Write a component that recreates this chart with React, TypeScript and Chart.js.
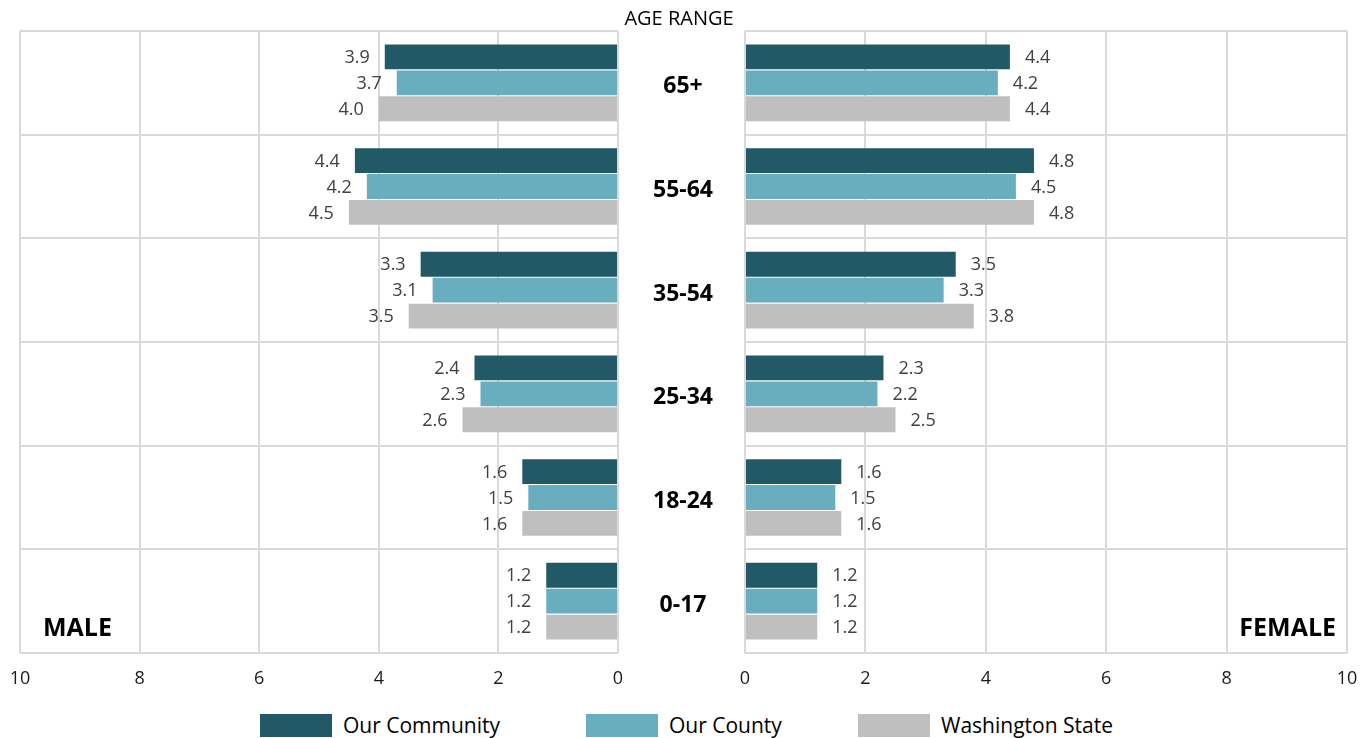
import React, { useEffect, useRef } from "react";
import { Chart, registerables } from "chart.js";

Chart.register(...registerables);

// ---- data ----
const ageRanges = ["65+", "55-64", "35-54", "25-34", "18-24", "0-17"];
const seriesNames = ["Our Community", "Our County", "Washington State"];
const seriesColors = ["#225967", "#68AEBF", "#BFBFBF"];
const maleCommunity = [3.9, 4.4, 3.3, 2.4, 1.6, 1.2];
const maleCounty = [3.7, 4.2, 3.1, 2.3, 1.5, 1.2];
const maleState = [4.0, 4.5, 3.5, 2.6, 1.6, 1.2];
const femaleCommunity = [4.4, 4.8, 3.5, 2.3, 1.6, 1.2];
const femaleCounty = [4.2, 4.5, 3.3, 2.2, 1.5, 1.2];
const femaleState = [4.4, 4.8, 3.8, 2.5, 1.6, 1.2];
const axisMin = 0;
const axisMax = 10;
const axisStep = 2;
const leftTitle = "MALE";
const rightTitle = "FEMALE";
const middleTitle = "AGE RANGE";

const GRID = "#D9D9D9";
const FONT = '"Open Sans", "DejaVu Sans", sans-serif';

function makeDatasets(values: number[][]) {
  return values.map((data, i) => ({
    label: seriesNames[i],
    data,
    backgroundColor: seriesColors[i],
    borderWidth: 0,
    categoryPercentage: 0.75,
    barPercentage: 0.96,
  }));
}

function valueLabelPlugin(side: "left" | "right") {
  return {
    id: "valueLabels" + side,
    afterDatasetsDraw(chart: any) {
      const ctx = chart.ctx;
      ctx.save();
      ctx.font = `18px ${FONT}`;
      ctx.fillStyle = "#404040";
      ctx.textBaseline = "middle";
      ctx.textAlign = side === "left" ? "right" : "left";
      chart.data.datasets.forEach((ds: any, i: number) => {
        const meta = chart.getDatasetMeta(i);
        meta.data.forEach((bar: any, j: number) => {
          const v = ds.data[j] as number;
          const x = side === "left" ? bar.x - 15 : bar.x + 15;
          ctx.fillText(v.toFixed(1), x, bar.y + 1);
        });
      });
      ctx.restore();
    },
  };
}

function cornerTitlePlugin(side: "left" | "right", text: string) {
  return {
    id: "cornerTitle" + side,
    afterDraw(chart: any) {
      const { ctx, chartArea } = chart;
      ctx.save();
      ctx.font = `bold 25px ${FONT}`;
      ctx.fillStyle = "#000000";
      ctx.textBaseline = "middle";
      if (side === "left") {
        ctx.textAlign = "left";
        ctx.fillText(text, chartArea.left + 23, chartArea.bottom - 24);
      } else {
        ctx.textAlign = "right";
        ctx.fillText(text, chartArea.right - 11, chartArea.bottom - 24);
      }
      ctx.restore();
    },
  };
}

// category names + "AGE RANGE" in the gap between the two panels
const middleLabelsPlugin = {
  id: "middleLabels",
  afterDraw(chart: any) {
    const { ctx, chartArea } = chart;
    const yScale = chart.scales.y;
    ctx.save();
    ctx.fillStyle = "#000000";
    ctx.textBaseline = "middle";
    ctx.textAlign = "center";
    ctx.font = `20px ${FONT}`;
    ctx.fillText(middleTitle, chartArea.left - 66, chartArea.top - 12);
    ctx.font = `bold 23px ${FONT}`;
    ageRanges.forEach((label, i) => {
      ctx.fillText(label, chartArea.left - 62, yScale.getPixelForValue(i) + 4);
    });
    ctx.restore();
  },
};

function xScale(reverse: boolean) {
  return {
    type: "linear" as const,
    min: axisMin,
    max: axisMax,
    reverse,
    afterFit: (s: any) => {
      s.height = 40;
    },
    ticks: {
      stepSize: axisStep,
      color: "#1a1a1a",
      font: { family: FONT, size: 18, lineHeight: "51px" },
      padding: 0,
      maxRotation: 0,
    },
    grid: { color: GRID, lineWidth: 2, drawTicks: false },
    border: { display: false },
  };
}

function yScale(width: number) {
  return {
    afterFit: (s: any) => {
      s.width = width;
    },
    ticks: { display: false },
    grid: { color: GRID, lineWidth: 2, drawTicks: false, offset: true },
    border: { display: false },
  };
}

export default function App() {
  const leftRef = useRef<HTMLCanvasElement>(null);
  const rightRef = useRef<HTMLCanvasElement>(null);

  useEffect(() => {
    const left = new Chart(leftRef.current as HTMLCanvasElement, {
      type: "bar",
      data: {
        labels: ageRanges,
        datasets: makeDatasets([maleCommunity, maleCounty, maleState]) as any,
      },
      options: {
        indexAxis: "y",
        animation: false,
        responsive: false,
        maintainAspectRatio: false,
        layout: { padding: { left: 20, right: 12, top: 31, bottom: 0 } },
        plugins: { legend: { display: false }, tooltip: { enabled: false } },
        scales: {
          x: xScale(true) as any,
          y: yScale(0) as any,
        },
      },
      plugins: [valueLabelPlugin("left"), cornerTitlePlugin("left", leftTitle)],
    });

    const right = new Chart(rightRef.current as HTMLCanvasElement, {
      type: "bar",
      data: {
        labels: ageRanges,
        datasets: makeDatasets([femaleCommunity, femaleCounty, femaleState]) as any,
      },
      options: {
        indexAxis: "y",
        animation: false,
        responsive: false,
        maintainAspectRatio: false,
        layout: { padding: { left: 0, right: 14, top: 31, bottom: 0 } },
        plugins: { legend: { display: false }, tooltip: { enabled: false } },
        scales: {
          x: xScale(false) as any,
          y: yScale(125) as any,
        },
      },
      plugins: [
        valueLabelPlugin("right"),
        cornerTitlePlugin("right", rightTitle),
        middleLabelsPlugin,
      ],
    });

    return () => {
      left.destroy();
      right.destroy();
    };
  }, []);

  const legendLefts = [260, 586, 858];

  return (
    <div
      style={{
        position: "fixed",
        left: 0,
        top: 0,
        width: 1361,
        height: 738,
        background: "#ffffff",
        overflow: "hidden",
      }}
    >
      <canvas
        ref={leftRef}
        width={630}
        height={693}
        style={{ position: "absolute", left: 0, top: 0, width: 630, height: 693 }}
      />
      <canvas
        ref={rightRef}
        width={741}
        height={693}
        style={{ position: "absolute", left: 620, top: 0, width: 741, height: 693 }}
      />
      {seriesNames.map((name, i) => (
        <div
          key={name}
          style={{
            position: "absolute",
            left: legendLefts[i],
            top: 714,
            height: 23,
            display: "flex",
            alignItems: "center",
            whiteSpace: "nowrap",
          }}
        >
          <span
            style={{
              display: "inline-block",
              width: 72,
              height: 23,
              background: seriesColors[i],
            }}
          />
          <span
            style={{
              marginLeft: 11,
              fontFamily: FONT,
              fontSize: 21,
              color: "#000000",
              lineHeight: "23px",
            }}
          >
            {name}
          </span>
        </div>
      ))}
    </div>
  );
}
